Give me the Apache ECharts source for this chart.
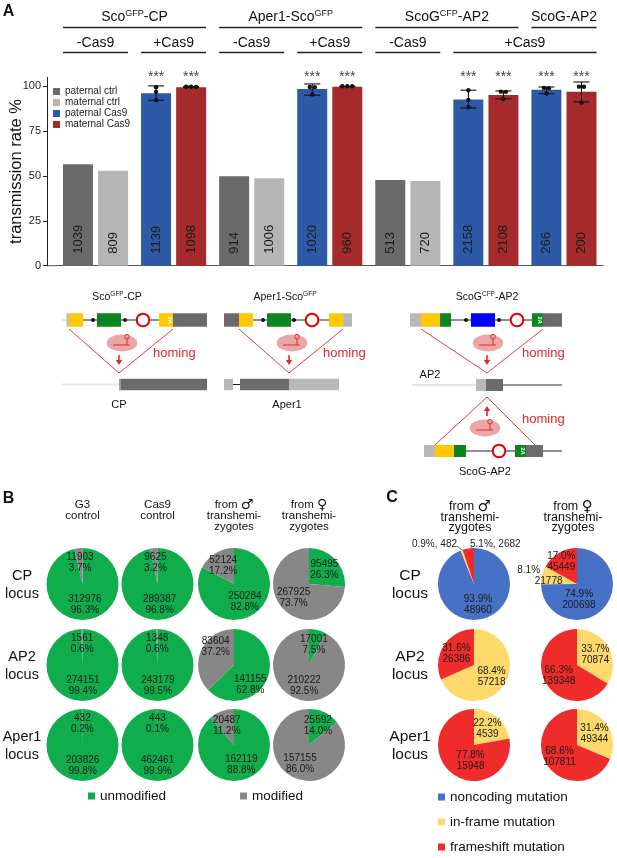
<!DOCTYPE html>
<html><head><meta charset="utf-8">
<script src="https://cdn.jsdelivr.net/npm/echarts@6/dist/echarts.min.js"></script>
<style>html,body{margin:0;padding:0;background:#fff}#c{width:617px;height:858px}</style>
</head><body><div id="c"></div>
<script>
// ---------------- Panel A data ----------------
const pairCategories = ['CP -Cas9','CP +Cas9','Aper1 -Cas9','Aper1 +Cas9','AP2 -Cas9','AP2 +Cas9','ScoG-AP2 +Cas9'];
const pairHasCas9 = [false, true, false, true, false, true, true];
const paternalRate = [56.6, 96.1, 49.9, 98.5, 47.7, 92.6, 98.0];
const maternalRate = [52.9, 99.4, 48.8, 99.8, 47.2, 95.2, 96.9];
const paternalN = [1039, 1139, 914, 1020, 513, 2158, 266];
const maternalN = [809, 1098, 1006, 960, 720, 2108, 200];
const paternalErr = [null, [92.2, 100.2], null, [95.0, 101.3], null, [87.9, 97.8], [95.8, 99.6]];
const maternalErr = [null, [99.3, 99.9], null, [99.8, 100.0], null, [93.0, 97.4], [91.3, 102.4]];
const paternalReps = [null, [99.5, 96.9, 92.2], null, [99.6, 99.5, 95.4], null, [97.8, 92.4, 88.4], [99.1, 98.9, 96.0]];
const maternalReps = [null, [99.7, 99.7, 99.6], null, [100, 100, 100], null, [97.0, 96.9, 92.9], [99.8, 99.7, 90.9]];
const significance = ['', '***', '', '***', '', '***', '***'];
const yTicks = [0, 25, 50, 75, 100];
const yMax = 105;
const constructHeaders = [
  {parts: ['Sco', 'GFP', '-CP'], from: 0, to: 1},
  {parts: ['Aper1-Sco', 'GFP', ''], from: 2, to: 3},
  {parts: ['ScoG', 'CFP', '-AP2'], from: 4, to: 5},
  {parts: ['ScoG-AP2', '', ''], from: 6, to: 6}
];
const cas9Headers = [
  {text: '-Cas9', from: 0, to: 0}, {text: '+Cas9', from: 1, to: 1},
  {text: '-Cas9', from: 2, to: 2}, {text: '+Cas9', from: 3, to: 3},
  {text: '-Cas9', from: 4, to: 4}, {text: '+Cas9', from: 5, to: 6}
];

// ---------------- Panel B data ----------------
const bColumns = ['G3\ncontrol', 'Cas9\ncontrol', 'from ♂\ntranshemi-\nzygotes', 'from ♀\ntranshemi-\nzygotes'];
const bRows = ['CP\nlocus', 'AP2\nlocus', 'Aper1\nlocus'];
const bUnmodified = [[312976, 289387, 250284, 95495], [274151, 243179, 141155, 17001], [203826, 462461, 162119, 25592]];
const bModified = [[11903, 9625, 52124, 267925], [1561, 1348, 83604, 210222], [432, 443, 20487, 157155]];
const bUnmodPct = [['96.3', '96.8', '82.8', '26.3'], ['99.4', '99.5', '62.8', '7.5'], ['99.8', '99.9', '88.8', '14.0']];
const bModPct = [['3.7', '3.2', '17.2', '73.7'], ['0.6', '0.6', '37.2', '92.5'], ['0.2', '0.1', '11.2', '86.0']];

// ---------------- Panel C data ----------------
const cColumns = ['from ♂\ntranshemi-\nzygotes', 'from ♀\ntranshemi-\nzygotes'];
const cRows = ['CP\nlocus', 'AP2\nlocus', 'Aper1\nlocus'];
const cNoncoding = [[48960, 200698], [0, 0], [0, 0]];
const cInframe = [[482, 21778], [57218, 70874], [4539, 49344]];
const cFrameshift = [[2682, 45449], [26386, 139348], [15948, 107811]];
const cNoncodingPct = [['93.9', '74.9'], ['', ''], ['', '']];
const cInframePct = [['0.9', '8.1'], ['68.4', '33.7'], ['22.2', '31.4']];
const cFrameshiftPct = [['5.1', '17.0'], ['31.6', '66.3'], ['77.8', '68.6']];

// ---------------- styles / layout ----------------
const FONT = '"Liberation Sans", Arial, Helvetica, sans-serif';
const COL = {patCtrl: '#6a6a6a', matCtrl: '#b5b5b5', patCas9: '#2c5aa6', matCas9: '#a52a2b',
  unmod: '#10ad4c', mod: '#878787', noncoding: '#4671c6', inframe: '#fdd86a', frameshift: '#ef2b2b'};
const W = 617;
const GRID = {left: 56.5, right: 14, top: 77.3, bottom: 592.3};
const BAR_W = 30, PAIR_HALF = 17.5;
const bColX = [82.5, 157.5, 234, 309];
const cColX = [474, 577];
const rowY = [584, 665, 745];
const PIE_R = 36;

const chart = echarts.init(document.getElementById('c'), null, {renderer: 'canvas'});

function pick(arr, want) { return arr.map((v, i) => pairHasCas9[i] === want ? v : '-'); }
function barLabel(nArr) {
  return {show: true, position: 'insideBottom', distance: 12, rotate: 90, align: 'left', verticalAlign: 'middle',
    fontSize: 13, color: '#1b1b1b', fontFamily: FONT, formatter: p => String(nArr[p.dataIndex])};
}
function barSeries(name, stack, data, color, nArr) {
  return {name, type: 'bar', stack, data, barWidth: BAR_W, barGap: '17%', itemStyle: {color},
    label: barLabel(nArr), emphasis: {disabled: true}, silent: true, z: 2};
}

const errItems = [];
pairCategories.forEach((c, i) => {
  if (paternalErr[i]) errItems.push({value: [i, -1, paternalErr[i][0], paternalErr[i][1]], reps: paternalReps[i], sig: significance[i]});
  if (maternalErr[i]) errItems.push({value: [i, 1, maternalErr[i][0], maternalErr[i][1]], reps: maternalReps[i], sig: significance[i]});
});
function spread(vals, tol, step) {
  const idx = vals.map((v, i) => i).sort((a, b) => vals[b] - vals[a]);
  const off = new Array(vals.length).fill(0);
  let g = [idx[0]];
  const flush = () => g.forEach((k, j) => { off[k] = (j - (g.length - 1) / 2) * step; });
  for (let j = 1; j < idx.length; j++) {
    if (Math.abs(vals[idx[j]] - vals[g[g.length - 1]]) <= tol) g.push(idx[j]);
    else { flush(); g = [idx[j]]; }
  }
  flush();
  return off;
}

const pieSeries = [];
function pieBase(cx, cy, data, layoutFn) {
  const s = {type: 'pie', center: [cx, cy], radius: [0, PIE_R], startAngle: 90, clockwise: true, silent: true,
    avoidLabelOverlap: false, animation: false, emphasis: {disabled: true},
    itemStyle: {borderWidth: 0}, labelLine: {show: false},
    label: {show: true, position: 'inside', fontSize: 10, lineHeight: 11, color: '#1a1a1a', fontFamily: FONT},
    data};
  if (layoutFn) s.labelLayout = layoutFn;
  return s;
}
const bNudge = {'1-2': {0: [-3, 12], 1: [1, -10]}};
const cNudge = {'0-1': {0: [-13, 1], 2: [-5, -4]}, '2-0': {1: [10, 0]}};
bRows.forEach((r, ri) => {
  bColumns.forEach((c, ci) => {
    const data = [
      {name: 'unmodified', value: bUnmodified[ri][ci], itemStyle: {color: COL.unmod},
        label: {formatter: bUnmodified[ri][ci] + '\n' + bUnmodPct[ri][ci] + '%'}},
      {name: 'modified', value: bModified[ri][ci], itemStyle: {color: COL.mod},
        label: {formatter: bModified[ri][ci] + '\n' + bModPct[ri][ci] + '%'}}
    ];
    const nud = bNudge[ri + '-' + ci];
    pieSeries.push(pieBase(bColX[ci], rowY[ri], data, nud ? (p => nud[p.dataIndex] ? {dx: nud[p.dataIndex][0], dy: nud[p.dataIndex][1]} : {}) : null));
  });
});
cRows.forEach((r, ri) => {
  cColumns.forEach((c, ci) => {
    const raw = [
      ['noncoding mutation', cNoncoding[ri][ci], cNoncodingPct[ri][ci], COL.noncoding],
      ['in-frame mutation', cInframe[ri][ci], cInframePct[ri][ci], COL.inframe],
      ['frameshift mutation', cFrameshift[ri][ci], cFrameshiftPct[ri][ci], COL.frameshift]
    ].filter(d => d[1] > 0);
    const total = raw.reduce((s, d) => s + d[1], 0);
    const data = raw.map(d => {
      const item = {name: d[0], value: d[1], itemStyle: {color: d[3]}, label: {formatter: d[2] + '%\n' + d[1]}};
      const share = d[1] / total;
      if (share < 0.07) {
        item.label = {position: 'outside', formatter: d[2] + '%, ' + d[1], color: '#222', fontSize: 10};
        item.labelLine = {show: true, length: 4, length2: 4, lineStyle: {color: '#333', width: 0.8}};
      } else if (share < 0.1) {
        item.label = {formatter: '{p|' + d[2] + '%}\n{q|' + d[1] + '}',
          rich: {p: {fontSize: 10, color: '#1a1a1a', padding: [0, 40, 0, 0], lineHeight: 11}, q: {fontSize: 10, color: '#1a1a1a', lineHeight: 11}}};
      }
      return item;
    });
    const key = ri + '-' + ci;
    const cx = cColX[ci], cy = rowY[ri];
    const layout = (p) => {
      const d = data[p.dataIndex];
      const share = d.value / total;
      if (share < 0.07) {
        return p.dataIndex === 1
          ? {x: cx - 17, y: cy - 40, align: 'right', verticalAlign: 'middle',
             labelLinePoints: [[cx - 17, cy - 38], [cx - 12, cy - 34], [cx - 8.5, cy - 32]]}
          : {x: cx - 4, y: cy - 40, align: 'left', verticalAlign: 'middle',
             labelLinePoints: [[cx - 3, cy - 37], [cx - 3, cy - 36], [cx - 3.5, cy - 34]]};
      }
      if (share < 0.1) return {dx: -8, dy: -3};
      const n = cNudge[key];
      if (n && n[p.dataIndex]) return {dx: n[p.dataIndex][0], dy: n[p.dataIndex][1]};
      return {};
    };
    pieSeries.push(pieBase(cx, cy, data, layout));
  });
});

// ---------------- graphic annotations ----------------
const G = [];
const catW = (W - GRID.left - GRID.right) / pairCategories.length;
const px = i => GRID.left + (i + 0.5) * catW;
const halfPair = PAIR_HALF + BAR_W / 2;
function txt(x, y, text, size, extra) {
  return {type: 'text', x, y, style: Object.assign({text, fontSize: size, fill: '#111', align: 'center',
    verticalAlign: 'middle', fontFamily: FONT}, extra || {})};
}
constructHeaders.forEach(h => {
  const x1 = px(h.from) - halfPair, x2 = px(h.to) + halfPair;
  G.push({type: 'line', shape: {x1, y1: 27.5, x2, y2: 27.5}, style: {stroke: '#222', lineWidth: 1.3}});
  const s = '{a|' + h.parts[0] + '}' + (h.parts[1] ? '{s|' + h.parts[1] + '}' : '') + (h.parts[2] ? '{a|' + h.parts[2] + '}' : '');
  G.push({type: 'text', x: (x1 + x2) / 2, y: 17, style: {text: s, align: 'center', verticalAlign: 'middle', fill: '#111',
    fontFamily: FONT, rich: {a: {fontSize: 14, lineHeight: 16, fill: '#111', fontFamily: FONT},
      s: {fontSize: 9, lineHeight: 8, verticalAlign: 'top', fill: '#111', fontFamily: FONT}}}});
});
cas9Headers.forEach(h => {
  const x1 = px(h.from) - halfPair, x2 = px(h.to) + halfPair;
  G.push({type: 'line', shape: {x1, y1: 52.5, x2, y2: 52.5}, style: {stroke: '#222', lineWidth: 1.3}});
  G.push(txt((x1 + x2) / 2, 43, h.text, 14));
});
// extend x-axis baseline to the y-axis (axis was offset)
G.push({type: 'line', shape: {x1: GRID.left - 9.5, y1: 858 - GRID.bottom, x2: GRID.left, y2: 858 - GRID.bottom}, style: {stroke: '#555', lineWidth: 1}});
G.push(txt(8.5, 12, 'A', 16, {fontWeight: 'bold'}));
G.push(txt(8.5, 499, 'B', 16, {fontWeight: 'bold'}));
G.push(txt(392, 498, 'C', 16, {fontWeight: 'bold'}));
function sym(s) { return s.replace(/([♂♀])/g, '{g|$1}'); }
bColumns.forEach((c, ci) => G.push(txt(bColX[ci], 499.5, sym(c), 11.5, {verticalAlign: 'top', lineHeight: 11,
  rich: {g: {fontSize: 14, lineHeight: 11, fill: '#111', fontFamily: '"DejaVu Sans", sans-serif'}}})));
bRows.forEach((r, ri) => G.push(txt(22, rowY[ri] + 0.5, r, 14.5, {lineHeight: 18})));
cColumns.forEach((c, ci) => G.push(txt(cColX[ci] - 4, 501.5, sym(c), 12.5, {verticalAlign: 'top', lineHeight: 10.5,
  rich: {g: {fontSize: 15, lineHeight: 10.5, fill: '#111', fontFamily: '"DejaVu Sans", sans-serif'}}})));
cRows.forEach((r, ri) => G.push(txt(410, rowY[ri] + 0.5, r, 15.5, {lineHeight: 18.5})));

// ---------------- schematic (decorative) ----------------
const YEL = '#ffc800', GRN = '#0b861f', BLU = '#0000ff', DG = '#6b6b6b', LG = '#b8b8b8', RED = '#e4262b';
function box(x1, x2, yc, h, fill) { G.push({type: 'rect', shape: {x: x1, y: yc - h / 2, width: x2 - x1, height: h}, style: {fill}}); }
function hline(x1, x2, y, stroke, w) { G.push({type: 'line', shape: {x1, y1: y, x2, y2: y}, style: {stroke, lineWidth: w}}); }
function dot(x, y) { G.push({type: 'circle', shape: {cx: x, cy: y, r: 2}, style: {fill: '#111'}}); }
function ring(x, y) { G.push({type: 'circle', shape: {cx: x, cy: y, r: 6.3}, style: {fill: '#fff', stroke: '#e00000', lineWidth: 2}}); }
function t2A(x, y) { G.push({type: 'text', x, y, rotation: -Math.PI / 2, style: {text: '2A', fontSize: 6, fill: '#fff', align: 'center', verticalAlign: 'middle', fontFamily: FONT, fontWeight: 'bold'}}); }
function vee(pts) { G.push({type: 'polyline', shape: {points: pts}, style: {stroke: RED, lineWidth: 0.9, fill: null}}); }
function capsule(cx, cy) {
  G.push({type: 'circle', x: cx, y: cy, scaleX: 1.8, shape: {cx: 0, cy: 0, r: 8.5}, style: {fill: '#eba7a7'}});
  G.push({type: 'line', shape: {x1: cx - 9, y1: cy + 2, x2: cx + 8, y2: cy + 2}, style: {stroke: RED, lineWidth: 1}});
  G.push({type: 'line', shape: {x1: cx + 5, y1: cy + 2, x2: cx + 5, y2: cy - 4}, style: {stroke: RED, lineWidth: 1}});
  G.push({type: 'circle', shape: {cx: cx + 5, cy: cy - 6.3, r: 2.3}, style: {fill: 'none', stroke: RED, lineWidth: 1}});
}
function arrowDown(x, y1, y2) {
  G.push({type: 'line', shape: {x1: x, y1, x2: x, y2: y2 - 3}, style: {stroke: RED, lineWidth: 1.6}});
  G.push({type: 'polygon', shape: {points: [[x - 3.2, y2 - 4], [x + 3.2, y2 - 4], [x, y2 + 1]]}, style: {fill: RED}});
}
function arrowUp(x, y1, y2) {
  G.push({type: 'line', shape: {x1: x, y1, x2: x, y2: y2 + 3}, style: {stroke: RED, lineWidth: 1.6}});
  G.push({type: 'polygon', shape: {points: [[x - 3.2, y2 + 4], [x + 3.2, y2 + 4], [x, y2 - 1]]}, style: {fill: RED}});
}
function homing(x, y) { G.push({type: 'text', x, y, style: {text: 'homing', fontSize: 13, fill: RED, align: 'left', verticalAlign: 'middle', fontFamily: FONT}}); }
function title(x, y, a, s, b) {
  G.push({type: 'text', x, y, style: {text: '{a|' + a + '}{s|' + s + '}' + (b ? '{a|' + b + '}' : ''), align: 'center', verticalAlign: 'middle',
    rich: {a: {fontSize: 10.5, lineHeight: 12, fill: '#111', fontFamily: FONT}, s: {fontSize: 6.5, lineHeight: 6, verticalAlign: 'top', fill: '#111', fontFamily: FONT}}}});
}
const CH = 13.5, LH = 11.3;
title(117, 297, 'Sco', 'GFP', '-CP');
hline(62, 68, 320, '#dcdcdc', 1.5);
hline(83, 159, 320, '#222', 1);
box(66.5, 69, 320, CH, '#bdbdbd');
box(69, 83, 320, CH, YEL); dot(93, 320); box(97, 121, 320, CH, GRN); dot(125, 320); ring(143, 320);
box(159, 173, 320, CH, YEL); t2A(170, 320); box(173, 207, 320, CH, DG);
vee([[69, 329], [119, 373], [173, 329]]);
capsule(122, 343); arrowDown(119, 355, 364); homing(153, 353);
hline(62, 119, 384.5, '#e6e6e6', 2); box(119, 121, 384.5, LH, '#9a9a9a'); box(121, 207, 384.5, LH, DG);
G.push(txt(119, 405, 'CP', 11));
title(285, 297, 'Aper1-Sco', 'GFP', '');
hline(253, 329, 320, '#222', 1);
box(224, 239, 320, CH, DG); box(239, 253, 320, CH, YEL); dot(263, 320); box(267, 291, 320, CH, GRN); dot(294, 320);
ring(312, 320); box(329, 343, 320, CH, YEL); box(343, 352, 320, CH, LG);
vee([[239, 329], [289, 373], [343, 329]]);
capsule(292, 343); arrowDown(289, 355, 364); homing(323, 353);
hline(233, 240, 384.5, '#222', 1);
box(224, 233, 384.5, LH, LG); box(240, 289, 384.5, LH, DG); box(289, 339, 384.5, LH, LG);
G.push(txt(287, 405, 'Aper1', 11));
title(487, 297, 'ScoG', 'CFP', '-AP2');
hline(451, 532, 320, '#222', 1);
box(410, 421, 320, CH, LG); box(421, 440, 320, CH, YEL); box(440, 451, 320, CH, GRN); dot(466, 320);
box(471, 495, 320, CH, BLU); dot(499, 320); ring(517, 320); box(532, 543, 320, CH, GRN); t2A(540, 320); box(543, 562, 320, CH, DG);
vee([[421, 329], [487, 373], [543, 329]]);
capsule(488, 343); arrowDown(487, 355, 364); homing(522, 353);
G.push(txt(430, 375, 'AP2', 11));
hline(412, 476, 385, '#e6e6e6', 2); hline(503, 562, 385, '#333', 1);
box(476, 486, 385, 12, LG); box(486, 503, 385, 12, DG);
vee([[435, 445], [487, 397], [535, 445]]);
arrowUp(487, 416, 407);
capsule(485, 428); homing(522, 419);
hline(466, 562, 451, '#222', 1);
box(424, 435, 451, 12, LG); box(435, 454, 451, 12, YEL); box(454, 466, 451, 12, GRN); ring(499, 451);
box(515, 526, 451, 12, GRN); t2A(523, 451); box(526, 543, 451, 12, DG);
G.push(txt(485, 472, 'ScoG-AP2', 11));

const option = {
  animation: false,
  textStyle: {fontFamily: FONT},
  grid: {left: GRID.left, right: GRID.right, top: GRID.top, bottom: GRID.bottom, containLabel: false, outerBoundsMode: 'none'},
  legend: [
    {data: ['paternal ctrl', 'maternal ctrl', 'paternal Cas9', 'maternal Cas9'], orient: 'vertical', left: 53, top: 86, padding: 0,
      itemWidth: 7, itemHeight: 7, itemGap: 0, icon: 'rect', selectedMode: false,
      textStyle: {fontSize: 10, lineHeight: 11, color: '#222', fontFamily: FONT}},
    {data: ['unmodified', 'modified'], left: 88, top: 789, padding: 0, itemWidth: 7, itemHeight: 7, itemGap: 74, icon: 'rect', selectedMode: false,
      textStyle: {fontSize: 13.5, lineHeight: 14, color: '#111', fontFamily: FONT}},
    {data: ['noncoding mutation', 'in-frame mutation', 'frameshift mutation'], orient: 'vertical', left: 438, top: 790, padding: 0,
      height: 68, itemWidth: 7, itemHeight: 7, itemGap: 11, icon: 'rect', selectedMode: false,
      textStyle: {fontSize: 13.5, lineHeight: 14, color: '#111', fontFamily: FONT}}
  ],
  xAxis: {type: 'category', data: pairCategories, axisLine: {show: true, lineStyle: {color: '#555', width: 1}},
    axisTick: {show: false}, axisLabel: {show: false}, splitLine: {show: false}},
  yAxis: {type: 'value', min: 0, max: yMax, interval: 25, offset: 9.5,
    axisLine: {show: true, lineStyle: {color: '#222', width: 1}},
    axisTick: {show: true, length: 4, customValues: yTicks, lineStyle: {color: '#222'}},
    axisLabel: {customValues: yTicks, fontSize: 11, color: '#222', margin: 6, fontFamily: FONT},
    splitLine: {show: false},
    name: 'transmission rate %', nameLocation: 'middle', nameGap: 22, nameMoveOverlap: false,
    nameTextStyle: {fontSize: 16.5, color: '#111', fontFamily: FONT}},
  graphic: {elements: G},
  series: [
    barSeries('paternal ctrl', 'pat', pick(paternalRate, false), COL.patCtrl, paternalN),
    barSeries('maternal ctrl', 'mat', pick(maternalRate, false), COL.matCtrl, maternalN),
    barSeries('paternal Cas9', 'pat', pick(paternalRate, true), COL.patCas9, paternalN),
    barSeries('maternal Cas9', 'mat', pick(maternalRate, true), COL.matCas9, maternalN),
    {type: 'custom', name: 'error', data: errItems.map(e => e.value), z: 5, silent: true, clip: false,
      encode: {x: 0, y: 2},
      renderItem(params, api) {
        const it = errItems[params.dataIndex];
        const i = api.value(0), side = api.value(1);
        const lo = api.coord([i, api.value(2)]), hi = api.coord([i, api.value(3)]);
        const x = lo[0] + side * PAIR_HALF;
        const ch = [];
        const st = {stroke: '#111', lineWidth: 1.1};
        ch.push({type: 'line', shape: {x1: x, y1: lo[1], x2: x, y2: hi[1]}, style: st});
        ch.push({type: 'line', shape: {x1: x - 8, y1: lo[1], x2: x + 8, y2: lo[1]}, style: st});
        ch.push({type: 'line', shape: {x1: x - 8, y1: hi[1], x2: x + 8, y2: hi[1]}, style: st});
        const offs = spread(it.reps, 2, 5);
        it.reps.forEach((v, k) => {
          const p = api.coord([i, v]);
          ch.push({type: 'circle', shape: {cx: x + offs[k], cy: p[1], r: 2.2}, style: {fill: '#111'}});
        });
        const top = api.coord([i, yMax]);
        ch.push({type: 'text', style: {text: it.sig, x: x, y: top[1], align: 'center', verticalAlign: 'middle',
          fontSize: 14, fill: '#444', fontFamily: FONT}});
        return {type: 'group', children: ch};
      }},
    ...pieSeries
  ]
};
chart.setOption(option);
</script>
</body></html>
